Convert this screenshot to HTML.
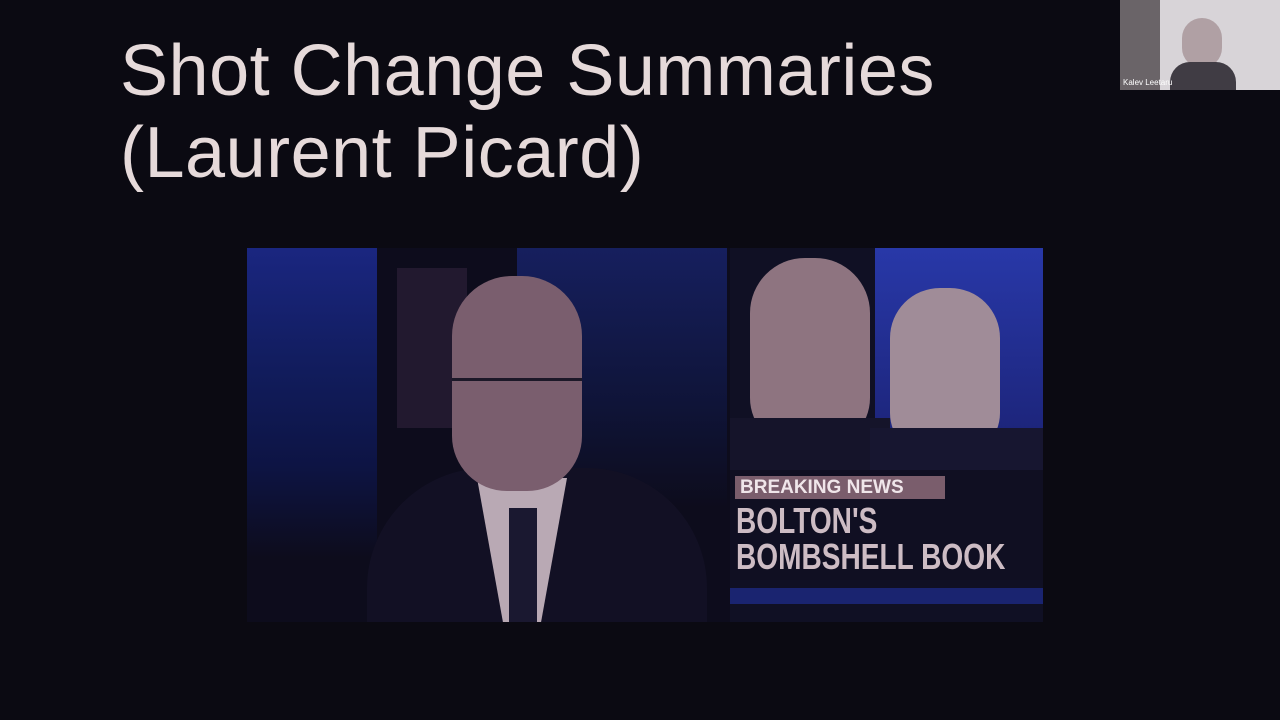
<!DOCTYPE html>
<html><head><meta charset="utf-8">
<style>
html,body{margin:0;padding:0;}
body{width:1280px;height:720px;background:#0b0a12;position:relative;overflow:hidden;font-family:"Liberation Sans",sans-serif;}
.abs{position:absolute;}
#title{left:120px;top:30px;color:#e6dada;font-size:72px;line-height:82px;letter-spacing:0.5px;white-space:nowrap;}
#frame{left:247px;top:248px;width:796px;height:374px;background:#0d0c1c;overflow:hidden;}
</style></head>
<body>
<div id="title" class="abs">Shot Change Summaries<br>(Laurent Picard)</div>

<div id="frame" class="abs">
  <div class="abs" style="left:0;top:0;width:130px;height:310px;background:linear-gradient(180deg,#1a2680,#111c5c 40%,#0d1444 70%,#0d0c1c);"></div>
  <div class="abs" style="left:270px;top:0;width:210px;height:260px;background:linear-gradient(180deg,#161f5e,#0f1438 60%,#0d0c1c);"></div>
  <div class="abs" style="left:150px;top:20px;width:70px;height:160px;background:#22192f;"></div>
  <div class="abs" style="left:120px;top:220px;width:340px;height:160px;background:#121024;border-radius:120px 120px 0 0;"></div>
  <div class="abs" style="left:230px;top:230px;width:90px;height:150px;background:#b9a9b4;clip-path:polygon(0 0,100% 0,70% 100%,30% 100%);"></div>
  <div class="abs" style="left:262px;top:260px;width:28px;height:120px;background:#1a1830;"></div>
  <div class="abs" style="left:205px;top:28px;width:130px;height:215px;background:#7a5e6e;border-radius:60px 60px 55px 55px;"></div>
  <div class="abs" style="left:205px;top:130px;width:130px;height:34px;border-top:3px solid #1c1828;"></div>
  <div class="abs" style="left:483px;top:0;width:313px;height:374px;background:#101024;">
    <div class="abs" style="left:145px;top:0;width:168px;height:230px;background:linear-gradient(180deg,#2838a8,#1a2070);"></div>
    <div class="abs" style="left:20px;top:10px;width:120px;height:190px;background:#8e7480;border-radius:55px 55px 50px 50px;"></div>
    <div class="abs" style="left:0;top:170px;width:160px;height:80px;background:#15142a;"></div>
    <div class="abs" style="left:160px;top:40px;width:110px;height:170px;background:#a08c98;border-radius:50px 50px 45px 45px;"></div>
    <div class="abs" style="left:140px;top:180px;width:173px;height:70px;background:#171630;"></div>
    <div class="abs" style="left:0;top:222px;width:313px;height:110px;background:#100f22;"></div>
    <div class="abs" style="left:5px;top:228px;width:205px;height:23px;background:#7a5d6c;color:#f0e6ea;font-weight:bold;font-size:19px;line-height:23px;padding-left:5px;white-space:nowrap;">BREAKING NEWS</div>
    <div class="abs" style="left:6px;top:255px;color:#cdbcc4;font-weight:bold;font-size:36px;line-height:36px;transform:scaleX(0.78);transform-origin:left;white-space:nowrap;">BOLTON'S<br>BOMBSHELL BOOK</div>
    <div class="abs" style="left:0;top:340px;width:313px;height:16px;background:#1a2470;"></div>
  </div>
</div>

<div class="abs" style="left:1120px;top:0;width:160px;height:90px;background:#d8d4d8;overflow:hidden;">
  <div class="abs" style="left:0;top:0;width:40px;height:90px;background:#6a6468;"></div>
  <div class="abs" style="left:62px;top:18px;width:40px;height:50px;background:#b0a0a4;border-radius:20px;"></div>
  <div class="abs" style="left:50px;top:62px;width:66px;height:28px;background:#403c44;border-radius:20px 20px 0 0;"></div>
  <div class="abs" style="left:3px;top:78px;color:#fff;font-size:8px;">Kalev Leetaru</div>
</div>
</body></html>
